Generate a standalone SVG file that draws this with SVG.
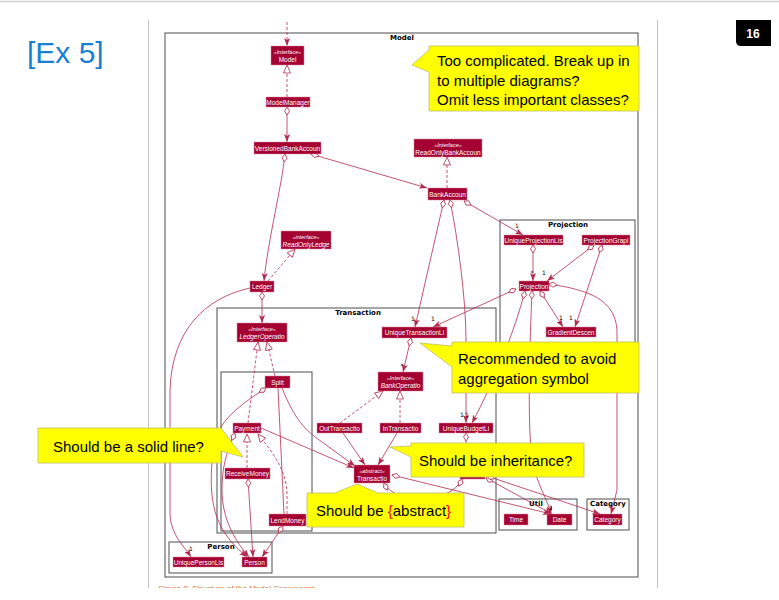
<svg xmlns="http://www.w3.org/2000/svg" width="779" height="600" viewBox="0 0 779 600">
<style>
  .n rect { fill: #A50032; stroke: #D98A9B; stroke-width: 0.5; }
  .n text { fill: #ffffff; font-family: "Liberation Sans", Arial, sans-serif; font-size: 6.5px; text-anchor: middle; }
  .n text.st { font-size: 5.5px; font-style: italic; }
  .n text.it { font-style: italic; }
  .fr { fill: none; stroke: #4d4d4d; stroke-width: 1; }
  .ft { font-family: "DejaVu Sans", sans-serif; font-weight: bold; font-size: 7px; text-anchor: middle; fill: #000; }
  .c path { fill: none; stroke: #B22B4C; stroke-width: 0.8; }
  .c path.d { stroke-dasharray: 3 2; }
  .lb { font-family: "DejaVu Sans", sans-serif; font-size: 6px; fill: #000; text-anchor: middle; }
  .co { fill: #FFFF00; stroke: #BDBD6A; stroke-width: 0.8; }
  .ct { font-family: "Liberation Sans", Arial, sans-serif; font-size: 15px; fill: #000; }
  .red { fill: #FF0000; }
</style>
<defs>
  <marker id="arr" viewBox="0 0 8 6" refX="8" refY="3" markerWidth="8" markerHeight="6" markerUnits="userSpaceOnUse" orient="auto">
    <path d="M0,0 L8,3 L0,6 L2,3 Z" fill="#B22B4C"/>
  </marker>
  <marker id="dia" viewBox="-1 -1 10 7" refX="8" refY="2.5" markerWidth="10" markerHeight="7" markerUnits="userSpaceOnUse" orient="auto-start-reverse">
    <path d="M0,2.5 L4,0 L8,2.5 L4,5 Z" fill="#ffffff" stroke="#B22B4C" stroke-width="0.8"/>
  </marker>
  <marker id="tri" viewBox="-1 -1 10 9" refX="8" refY="3.5" markerWidth="10" markerHeight="9" markerUnits="userSpaceOnUse" orient="auto">
    <path d="M0,0 L8,3.5 L0,7 Z" fill="#ffffff" stroke="#B22B4C" stroke-width="0.8"/>
  </marker>
  <clipPath id="page"><rect x="148" y="0" width="510" height="588"/></clipPath>
</defs>

<rect width="779" height="600" fill="#ffffff"/>

<!-- slide chrome -->
<line x1="0" y1="1.5" x2="779" y2="1.5" stroke="#d0d0d0" stroke-width="1.5"/>
<text x="27" y="63" font-family="Liberation Sans, Arial, sans-serif" font-size="30" fill="#1A7FD4">[Ex 5]</text>
<path d="M736,20 H771 V46 H741 Q736,46 736,41 Z" fill="#000"/>
<text x="753" y="37.5" font-family="Liberation Sans, Arial, sans-serif" font-size="12" font-weight="bold" fill="#fff" text-anchor="middle">16</text>
<line x1="148.5" y1="20" x2="148.5" y2="588" stroke="#c4c4c4" stroke-width="1"/>
<line x1="657.5" y1="20" x2="657.5" y2="588" stroke="#c4c4c4" stroke-width="1"/>
<text x="158" y="591" clip-path="url(#page)" font-family="Liberation Sans, Arial, sans-serif" font-size="8" font-style="italic" fill="#D9773A">Figure 8. Structure of the Model Component</text>

<!-- packages -->
<g id="pkg-model"><rect class="fr" x="165" y="33" width="473" height="544"/><text class="ft" x="402" y="40">Model</text></g>
<g id="pkg-projection"><rect class="fr" x="500" y="220" width="135" height="160"/><text class="ft" x="568" y="227">Projection</text></g>
<g id="pkg-transaction"><rect class="fr" x="217" y="308" width="279" height="225"/><text class="ft" x="358" y="315">Transaction</text></g>
<g id="pkg-split"><rect class="fr" x="221" y="372" width="91" height="159"/></g>
<g id="pkg-util"><rect class="fr" x="499" y="499" width="78" height="31"/><text class="ft" x="536" y="506">Util</text></g>
<g id="pkg-category"><rect class="fr" x="587" y="499" width="42" height="31"/><text class="ft" x="608" y="506">Category</text></g>
<g id="pkg-person"><rect class="fr" x="169" y="542" width="103" height="31"/><text class="ft" x="221" y="549">Person</text></g>

<!-- connectors -->
<g id="connectors" class="c">
  <path class="d" d="M287,22 V46" marker-end="url(#arr)"/>
  <path class="d" d="M287,97 V65" marker-end="url(#tri)"/>
  <path d="M287,107 V142" marker-start="url(#dia)" marker-end="url(#arr)"/>
  <path d="M285,154 C282,185 268,240 264,281" marker-start="url(#dia)" marker-end="url(#arr)"/>
  <path d="M311,154 L427,188" marker-start="url(#dia)" marker-end="url(#arr)"/>
  <path class="d" d="M447,188 V157" marker-end="url(#tri)"/>
  <path class="d" d="M268,281 L295,249" marker-end="url(#tri)"/>
  <path d="M262,292 V323" marker-start="url(#dia)" marker-end="url(#arr)"/>
  <path d="M250,288 C205,298 172,330 170,390 L170,515 C171,535 184,546 191,557" marker-end="url(#arr)"/>
  <path d="M444,200 L415,327" marker-start="url(#dia)" marker-end="url(#arr)"/>
  <path d="M450,200 C458,240 466,300 466,340 L466,423" marker-start="url(#dia)" marker-end="url(#arr)"/>
  <path d="M464,201 L523,235" marker-start="url(#dia)" marker-end="url(#arr)"/>
  <path d="M533,245 V281" marker-start="url(#dia)" marker-end="url(#arr)"/>
  <path d="M594,245 L547,281" marker-start="url(#dia)" marker-end="url(#arr)"/>
  <path d="M602,245 L575,327" marker-start="url(#dia)" marker-end="url(#arr)"/>
  <path d="M540,291 L563,327" marker-start="url(#dia)" marker-end="url(#arr)"/>
  <path d="M516,289 L433,327" marker-start="url(#dia)" marker-end="url(#arr)"/>
  <path d="M525,291 C515,330 495,380 472,423" marker-start="url(#dia)" marker-end="url(#arr)"/>
  <path d="M532,291 C530,340 527,420 532,460 C537,485 548,500 551,514" marker-start="url(#dia)" marker-end="url(#arr)"/>
  <path d="M549,284 C590,290 615,300 617,330 L617,490 L611,514" marker-start="url(#dia)" marker-end="url(#arr)"/>
  <path d="M411,338 L403,372" marker-start="url(#dia)" marker-end="url(#arr)"/>
  <path class="d" d="M248,423 L258,342" marker-end="url(#tri)"/>
  <path class="d" d="M275,376 L267,342" marker-end="url(#tri)"/>
  <path d="M266,388 C232,410 216,425 213,450 C208,500 212,528 247,557" marker-start="url(#dia)" marker-end="url(#arr)"/>
  <path d="M235,433 C225,455 222,470 222,490 C222,520 236,542 249,557" marker-start="url(#dia)" marker-end="url(#arr)"/>
  <path d="M248,479 L253,557" marker-start="url(#dia)" marker-end="url(#arr)"/>
  <path d="M283,526 L262,557" marker-start="url(#dia)" marker-end="url(#arr)"/>
  <path class="d" d="M247,468 L247,434" marker-end="url(#tri)"/>
  <path class="d" d="M287,514 L287,495 C287,470 272,452 258,434" marker-end="url(#tri)"/>
  <path d="M278,388 L284,514"/>
  <path d="M282,388 C295,420 305,430 322,442 L355,466" marker-end="url(#arr)"/>
  <path d="M261,428 L354,468" marker-end="url(#arr)"/>
  <path class="d" d="M340,423 L383,391" marker-end="url(#tri)"/>
  <path class="d" d="M400,423 V391" marker-end="url(#tri)"/>
  <path d="M343,433 L365,465" marker-end="url(#arr)"/>
  <path d="M397,433 L378,465" marker-end="url(#arr)"/>
  <path d="M466,433 L466,467" marker-start="url(#dia)"/>
  <path d="M392,475 L551,514" marker-start="url(#dia)" marker-end="url(#arr)"/>
  <path d="M486,478 L552,514" marker-start="url(#dia)" marker-end="url(#arr)"/>
  <path d="M487,476 L600,514" marker-start="url(#dia)" marker-end="url(#arr)"/>
  <path d="M384,483 C395,505 450,505 462,479" marker-start="url(#dia)" marker-end="url(#dia)"/>
</g>

<!-- classes -->
<g id="model" class="n"><rect x="271" y="46" width="33" height="19"/><text class="st" x="287.5" y="54">«Interface»</text><text x="287.5" y="62">Model</text></g>
<g id="model-manager" class="n"><rect x="266" y="97" width="44" height="10"/><text x="288" y="104.5">ModelManager</text></g>
<g id="versioned-bank-account" class="n"><rect x="254" y="142" width="67" height="12"/><text x="287.5" y="150.5">VersionedBankAccoun</text></g>
<g id="read-only-bank-account" class="n"><rect x="414" y="139" width="68" height="18"/><text class="st" x="448" y="146.5">«Interface»</text><text x="448" y="154.5">ReadOnlyBankAccoun</text></g>
<g id="bank-account" class="n"><rect x="428" y="188" width="39" height="12"/><text x="447.5" y="196.5">BankAccoun</text></g>
<g id="read-only-ledger" class="n"><rect x="281" y="231" width="50" height="18"/><text class="st" x="306" y="238.5">«interface»</text><text class="it" x="306" y="246.5">ReadOnlyLedge</text></g>
<g id="ledger" class="n"><rect x="250" y="281" width="24" height="11"/><text x="262" y="289">Ledger</text></g>
<g id="ledger-operation" class="n"><rect x="237" y="323" width="50" height="19"/><text class="st" x="262" y="331">«Interface»</text><text class="it" x="262" y="339">LedgerOperatio</text></g>
<g id="unique-transaction-list" class="n"><rect x="382" y="327" width="65" height="11"/><text x="414.5" y="335">UniqueTransactionLi</text></g>
<g id="split" class="n"><rect x="265" y="376" width="25" height="12"/><text x="277.5" y="384.5">Split</text></g>
<g id="payment" class="n"><rect x="233" y="423" width="28" height="10"/><text x="247" y="430.5">Payment</text></g>
<g id="receive-money" class="n"><rect x="225" y="468" width="45" height="11"/><text x="247.5" y="476">ReceiveMoney</text></g>
<g id="lend-money" class="n"><rect x="269" y="514" width="37" height="12"/><text x="287.5" y="522.5">LendMoney</text></g>
<g id="bank-operation" class="n"><rect x="378" y="372" width="45" height="19"/><text class="st" x="400.5" y="380">«Interface»</text><text class="it" x="400.5" y="388">BankOperatio</text></g>
<g id="out-transaction" class="n"><rect x="317" y="423" width="45" height="10"/><text x="339.5" y="430.5">OutTransactio</text></g>
<g id="in-transaction" class="n"><rect x="380" y="423" width="41" height="10"/><text x="400.5" y="430.5">InTransactio</text></g>
<g id="unique-budget-list" class="n"><rect x="439" y="423" width="54" height="10"/><text x="466" y="430.5">UniqueBudgetLi</text></g>
<g id="transaction" class="n"><rect x="354" y="465" width="36" height="18"/><text class="st" x="372" y="472.5">«abstract»</text><text x="372" y="480.5">Transactio</text></g>
<g id="budget" class="n"><rect x="460" y="467" width="25" height="12"/></g>
<g id="unique-projection-list" class="n"><rect x="504" y="235" width="59" height="10"/><text x="533.5" y="242.5">UniqueProjectionLis</text></g>
<g id="projection-graph" class="n"><rect x="582" y="235" width="48" height="10"/><text x="606" y="242.5">ProjectionGrapl</text></g>
<g id="projection" class="n"><rect x="519" y="281" width="30" height="10"/><text x="534" y="288.5">Projection</text></g>
<g id="gradient-descent" class="n"><rect x="546" y="327" width="50" height="10"/><text x="571" y="334.5">GradientDescen</text></g>
<g id="time" class="n"><rect x="504" y="514" width="24" height="11"/><text x="516" y="522">Time</text></g>
<g id="date" class="n"><rect x="547" y="514" width="25" height="11"/><text x="559.5" y="522">Date</text></g>
<g id="category" class="n"><rect x="593" y="514" width="29" height="11"/><text x="607.5" y="522">Category</text></g>
<g id="unique-person-list" class="n"><rect x="173" y="557" width="51" height="10"/><text x="198.5" y="564.5">UniquePersonLis</text></g>
<g id="person" class="n"><rect x="242" y="557" width="25" height="10"/><text x="254.5" y="564.5">Person</text></g>

<!-- multiplicities -->
<g id="labels">
  <text class="lb" x="413" y="321">1</text>
  <text class="lb" x="433" y="321">1</text>
  <text class="lb" x="402" y="368">*</text>
  <text class="lb" x="462" y="417">1</text>
  <text class="lb" x="467" y="417">1</text>
  <text class="lb" x="517" y="228">1</text>
  <text class="lb" x="532" y="275">*</text>
  <text class="lb" x="544" y="275">1</text>
  <text class="lb" x="561" y="320">1</text>
  <text class="lb" x="571" y="320">1</text>
  <text class="lb" x="551" y="510">1</text>
  <text class="lb" x="191" y="551">1</text>
</g>

<!-- review notes -->
<g id="note-complicated">
  <path class="co" d="M429,46 H639 V111 H429 V72 L412,65 L429,50 Z"/>
  <text class="ct" x="437" y="66">Too complicated. Break up in</text>
  <text class="ct" x="437" y="86">to multiple diagrams?</text>
  <text class="ct" x="437" y="105">Omit less important classes?</text>
</g>
<g id="note-aggregation">
  <path class="co" d="M452,342 H639 V393 H452 V367 L420,343 L452,346 Z"/>
  <text class="ct" x="458" y="364">Recommended to avoid</text>
  <text class="ct" x="458" y="384">aggregation symbol</text>
</g>
<g id="note-solid">
  <path class="co" d="M38,428 H221 L243,457 L221,451 V463 H38 Z"/>
  <text class="ct" x="53" y="452">Should be a solid line?</text>
</g>
<g id="note-inheritance">
  <path class="co" d="M411,443 H584 V477 H411 V457 L390,447 L411,446 Z"/>
  <text class="ct" x="419" y="466">Should be inheritance?</text>
</g>
<g id="note-abstract">
  <path class="co" d="M307,493 H335 L357,484 L378,493 H464 V527 H307 Z"/>
  <text class="ct" x="316" y="516">Should be <tspan class="red">{</tspan>abstract<tspan class="red">}</tspan></text>
</g>
</svg>
